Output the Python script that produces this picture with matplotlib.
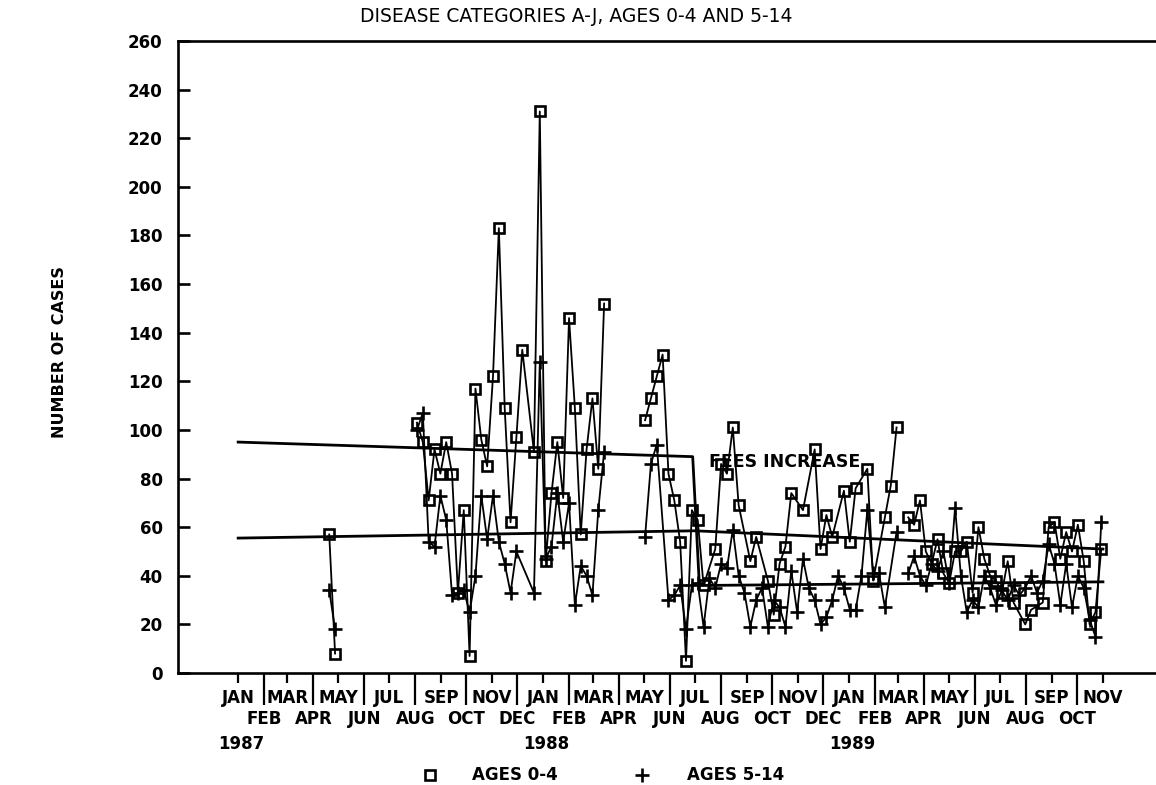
import numpy as np
import matplotlib
matplotlib.use("Agg")
import matplotlib.pyplot as plt
from matplotlib.transforms import blended_transform_factory

plt.rcParams['font.family'] = ['DejaVu Sans']

ORIGIN = np.datetime64('1987-01-01')

# Weekly case counts per reporting run: first week, ages 0-4, ages 5-14.
# None marks a week with no report (the line joins the neighbouring weeks).
spring87_start = '1987-04-20'
ages04_spring87 = [57, 8]
ages514_spring87 = [34, 18]

winter87_start = '1987-08-03'
ages04_winter87 = [103, 95, 71, 92, 82, 95, 82, 33, 67, 7, 117, 96, 85, 122, 183,
                   109, 62, 97, 133, None, 91, 231, 46, 74, 95, 72, 146, 109, 57,
                   92, 113, 84, 152]
ages514_winter87 = [100, 107, 54, 52, 73, 63, 32, 33, 34, 25, 40, 73, 55, 73, 54,
                    45, 33, 50, None, None, 33, 128, 47, 52, 74, 54, 70, 28, 44,
                    40, 32, 67, 91]

summer88_start = '1988-05-02'
ages04_summer88 = [104, 113, 122, 131, 82, 71, 54, 5, 67, 63, 36, None, 51, 86, 82,
                   101, 69, None, 46, 56, None, 38, 24, 45, 52, 74, None, 67, None,
                   92, 51, 65, 56, None, 75, 54, 76, None, 84, 38, None, 64, 77, 101]
ages514_summer88 = [56, 86, 94, None, 30, 32, 36, 18, 36, 37, 19, 39, 35, 45, 43,
                    59, 40, 33, 19, 30, 35, 19, 30, 27, 19, 42, 25, 47, 35, 30, 20,
                    23, 30, 40, 35, 26, 26, 40, 67, 41, 41, 27, None, 58]

spring89_start = '1989-03-13'
ages04_spring89 = [64, 61, 71, 50, 45, 55, 41, 37, 50, 50, 54, 33, 60, 47, 40, 38,
                   33, 46, 29, None, 20, 26, None, 29, 60, 62, 47, 58, 50, 61, 46,
                   20, 25, 51]
ages514_spring89 = [41, 48, 40, 36, 45, 42, 50, 37, 68, 40, 25, 30, 27, 40, 35, 28,
                    34, 30, 36, 32, 35, 40, 33, 38, 53, 45, 28, 45, 27, 40, 35, 22,
                    15, 62]

runs = [
    (spring87_start, ages04_spring87, ages514_spring87),
    (winter87_start, ages04_winter87, ages514_winter87),
    (summer88_start, ages04_summer88, ages514_summer88),
    (spring89_start, ages04_spring89, ages514_spring89),
]

# Fitted levels before and after the fee increase
upper_trend_dates = ['1987-01-01', '1988-06-28', '1988-07-06', '1989-11-01']
upper_trend_values = [95, 89, 36, 37.5]
lower_trend_dates = ['1987-01-01', '1988-07-01', '1989-11-01']
lower_trend_values = [55.5, 58.5, 51]

month_names = ['JAN', 'FEB', 'MAR', 'APR', 'MAY', 'JUN',
               'JUL', 'AUG', 'SEP', 'OCT', 'NOV', 'DEC']
years = [1987, 1988, 1989]
last_month = '1989-11'

title = 'DISEASE CATEGORIES A-J, AGES 0-4 AND 5-14'
ylabel = 'NUMBER OF CASES'
note = 'FEES INCREASE'
note_date = '1988-07-17'
note_value = 86.8
legend_labels = ['AGES 0-4', 'AGES 5-14']


def days(date):
    return (np.datetime64(date, 'D') - ORIGIN).astype(int)


def weekly(start, values):
    x = days(start) + 7 * np.arange(len(values))
    y = np.array([np.nan if v is None else v for v in values], dtype=float)
    keep = ~np.isnan(y)
    return x[keep], y[keep]


W, H = 1156, 785
fig = plt.figure(figsize=(W / 100, H / 100), dpi=100)
ax = fig.add_axes([178 / W, 1 - 673 / H, (1156 - 178) / W, (673 - 41) / H])

FS = 12
bold = dict(fontsize=FS, fontweight='bold')

# trend lines
ax.plot([days(d) for d in upper_trend_dates], upper_trend_values,
        color='black', lw=2.0, zorder=2)
ax.plot([days(d) for d in lower_trend_dates], lower_trend_values,
        color='black', lw=2.0, zorder=2)

square = dict(marker='s', ms=7.5, mfc='none', mec='black', mew=1.9)
plus = dict(marker='+', ms=10.5, mec='black', mew=1.9)
for start, a04, a514 in runs:
    x, y = weekly(start, a04)
    ax.plot(x, y, color='black', lw=1.3, zorder=3, **square)
    x, y = weekly(start, a514)
    ax.plot(x, y, color='black', lw=1.3, zorder=3, **plus)

ax.text(days(note_date), note_value, note, ha='left', va='center', zorder=4,
        fontsize=12.5, fontweight='bold')

# axes frame
ax.set_xlim(-72, 1098.5)
ax.set_ylim(0, 260)
ax.spines['right'].set_visible(False)
for s in ('left', 'bottom', 'top'):
    ax.spines[s].set_linewidth(1.9)

ax.set_yticks(np.arange(0, 261, 20))
ax.tick_params(axis='y', direction='in', length=8.6, width=1.9, pad=11, labelsize=FS)
for lab in ax.get_yticklabels():
    lab.set_fontweight('bold')

# month ticks: odd months short with upper labels, even months long with lower labels
months = np.arange(np.datetime64('1987-01'), np.datetime64(last_month) + 1)
pos = [days(m.astype('datetime64[D]')) for m in months]
names = [month_names[int(str(m)[5:7]) - 1] for m in months]
ax.set_xticks(pos[0::2])
ax.set_xticklabels(names[0::2])
ax.set_xticks(pos[1::2], minor=True)
ax.set_xticklabels(names[1::2], minor=True)
ax.tick_params(axis='x', which='major', direction='out', length=7.2, width=1.6,
               pad=4.5, labelsize=FS)
ax.tick_params(axis='x', which='minor', direction='out', length=23, width=1.6,
               pad=3.5, labelsize=FS)
for lab in ax.get_xticklabels() + ax.get_xticklabels(minor=True):
    lab.set_fontweight('bold')

tr = blended_transform_factory(ax.transData, fig.transFigure)
for yr in years:
    ax.text(days(f'{yr}-01-01') + 4, 1 - 744 / H, str(yr), transform=tr,
            ha='center', va='center', **bold)

fig.text(576 / W, 1 - 16 / H, title, ha='center', va='center', fontsize=13.5)
fig.text(60 / W, 1 - 352 / H, ylabel, rotation=90, ha='center', va='center',
         fontsize=11.5, fontweight='bold')

# legend
ly = 1 - 775 / H
fig.add_artist(plt.Line2D([430 / W], [ly], transform=fig.transFigure, **square))
fig.text(472 / W, ly, legend_labels[0], ha='left', va='center', **bold)
fig.add_artist(plt.Line2D([642 / W], [ly], transform=fig.transFigure, **plus))
fig.text(687 / W, ly, legend_labels[1], ha='left', va='center', **bold)

fig.savefig('out.png', dpi=100, facecolor='white')
